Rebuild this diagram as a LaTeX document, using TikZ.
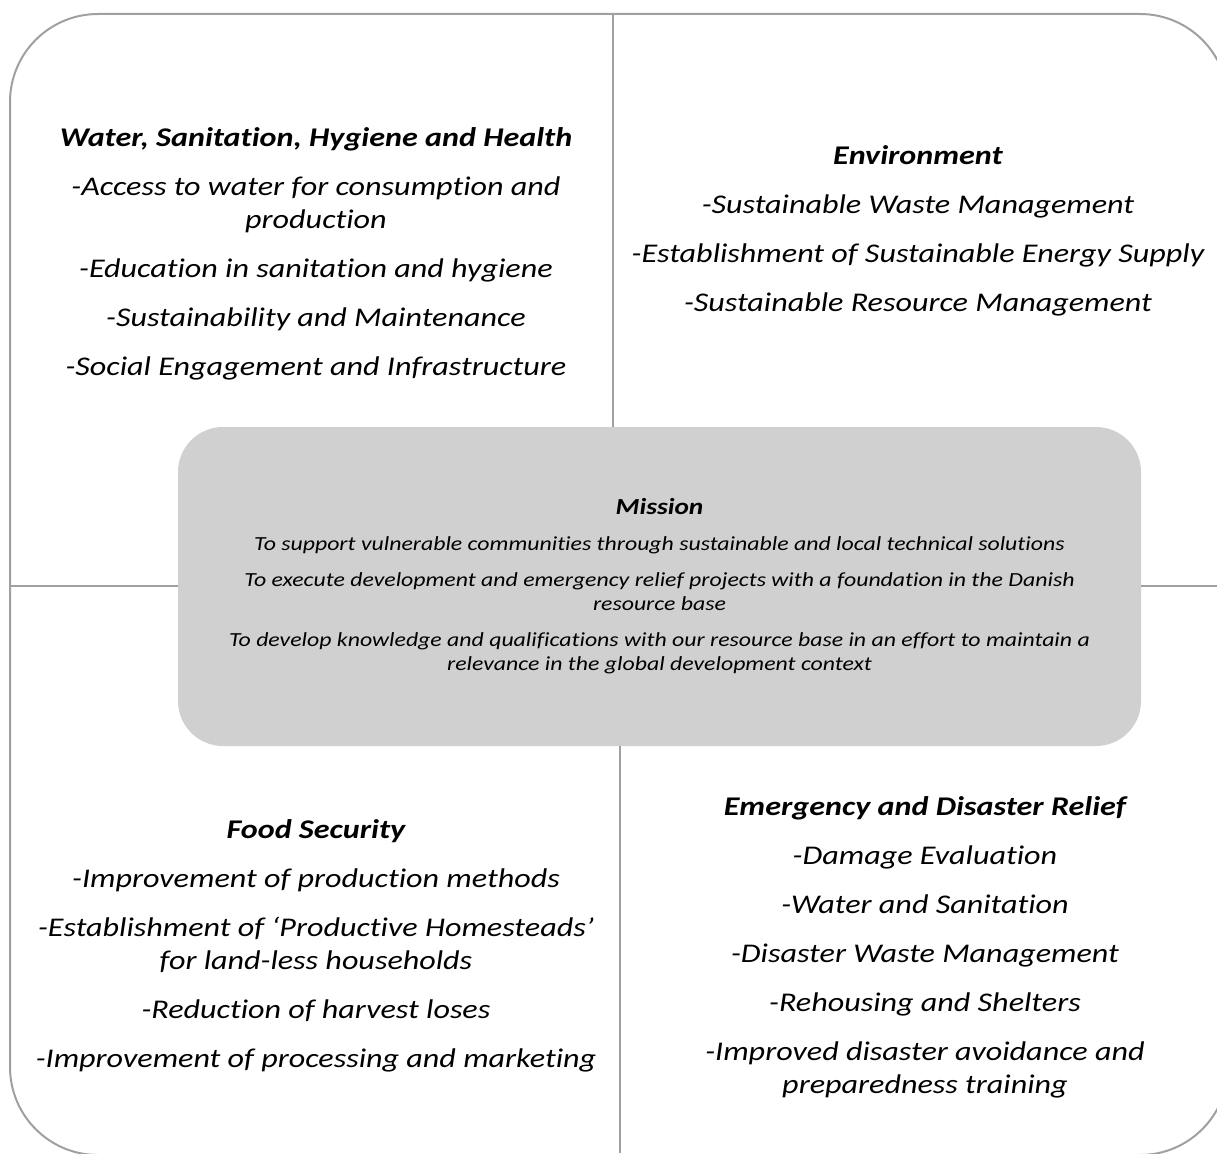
\documentclass[tikz,border=0pt]{standalone}
\usepackage{fontspec}
\setmainfont{Carlito}[FakeStretch=1.19, Ligatures=NoCommon]
\usetikzlibrary{positioning}
\definecolor{framegray}{HTML}{A0A0A0}
\definecolor{missiongray}{HTML}{D0D0D0}

\begin{document}
\begin{tikzpicture}[x=1pt,y=-1pt,
	frame/.style={draw=framegray, line width=2pt, rounded corners=88pt},
	divider/.style={draw=framegray, line width=2.5pt},
	quad/.style={align=center, anchor=north, inner sep=0pt, font=\fontsize{27}{33}\selectfont\itshape},
	missionbox/.style={fill=missiongray, rounded corners=45pt, minimum width=963pt, minimum height=319pt,
		align=center, inner sep=0pt, font=\fontsize{20}{24}\selectfont\itshape}]
		\useasboundingbox (0,0) rectangle (1217,1153);
		\clip (0,0) rectangle (1217,1153);

		% Outer frame
		\draw[frame] (10,14) rectangle (1228,1155);

		% Mission
		\node[missionbox] (mission) at (659.5,586.5) {%
			{\fontsize{23}{28}\selectfont\bfseries Mission}\\[12pt]
			To support vulnerable communities through sustainable and local technical solutions\\[12pt]
			To execute development and emergency relief projects with a foundation in the Danish\\
			resource base\\[12pt]
			To develop knowledge and qualifications with our resource base in an effort to maintain a\\
			relevance in the global development context};

		% Dividers
		\coordinate (top) at (613,14);
		\coordinate (bottom) at (620,1153);
		\coordinate (left) at (10,586);
		\coordinate (right) at (1217,586);
		\draw[divider] (top) -- (top |- mission.north);
		\draw[divider] (bottom) -- (bottom |- mission.south);
		\draw[divider] (left) -- (left -| mission.west);
		\draw[divider] (right) -- (right -| mission.east);

		% Water, Sanitation, Hygiene and Health
		\node[quad] (wash) at (316,127) {%
			{\bfseries Water, Sanitation, Hygiene and Health}\\[16pt]
			-Access to water for consumption and\\
			production\\[16pt]
			-Education in sanitation and hygiene\\[16pt]
			-Sustainability and Maintenance\\[16pt]
			-Social Engagement and Infrastructure};

		% Environment
		\node[quad] (environment) at (918,145) {%
			{\bfseries Environment}\\[16pt]
			-Sustainable Waste Management\\[16pt]
			-Establishment of Sustainable Energy Supply\\[16pt]
			-Sustainable Resource Management};

		% Food Security
		\node[quad] (food) at (316,819) {%
			{\bfseries Food Security}\\[16pt]
			-Improvement of production methods\\[16pt]
			-Establishment of `Productive Homesteads'\\
			for land-less households\\[16pt]
			-Reduction of harvest loses\\[16pt]
			-Improvement of processing and marketing};

		% Emergency and Disaster Relief
		\node[quad] (relief) at (925,796) {%
			{\bfseries Emergency and Disaster Relief}\\[16pt]
			-Damage Evaluation\\[16pt]
			-Water and Sanitation\\[16pt]
			-Disaster Waste Management\\[16pt]
			-Rehousing and Shelters\\[16pt]
			-Improved disaster avoidance and\\
			preparedness training};
	\end{tikzpicture}
\end{document}
